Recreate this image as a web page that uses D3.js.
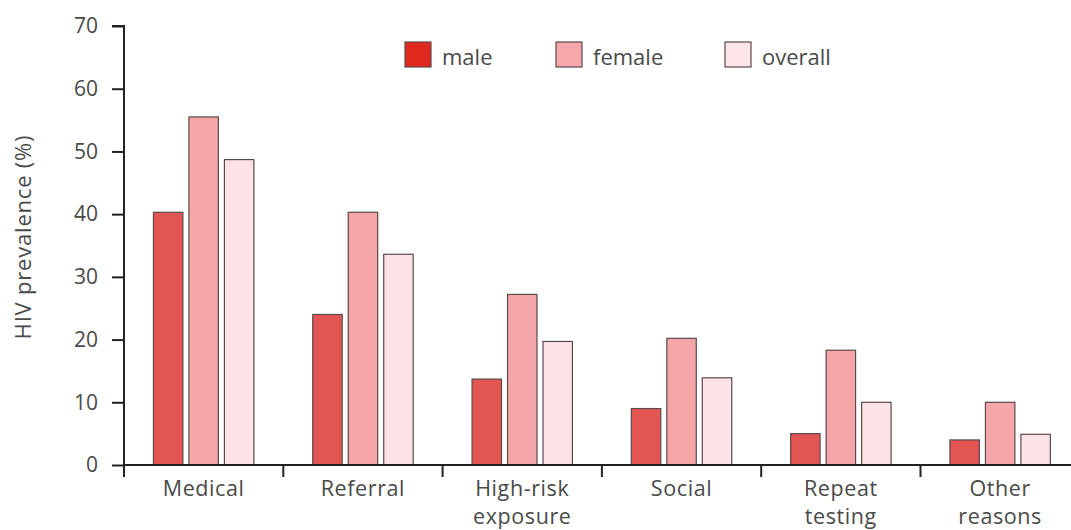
<!DOCTYPE html>
<html><head><meta charset="utf-8">
<script src="https://cdn.jsdelivr.net/npm/d3@7"></script>
<style>
body{margin:0;background:#fff;}
svg{display:block;}
text{font-family:"Open Sans",sans-serif;fill:#4a4a4a;}
</style></head>
<body><svg id="c" width="1071" height="530"></svg>
<script>
const categories = [["Medical"],["Referral"],["High-risk","exposure"],["Social"],["Repeat","testing"],["Other","reasons"]];
const series = ["male","female","overall"];
const male = [40.3, 24.0, 13.7, 9.0, 5.0, 4.0];
const female = [55.5, 40.3, 27.2, 20.2, 18.3, 10.0];
const overall = [48.7, 33.6, 19.7, 13.9, 10.0, 4.9];
const yTicks = [0,10,20,30,40,50,60,70];
const yLabel = "HIV prevalence (%)";

const values = {male, female, overall};
const barColors = {male:"#e25553", female:"#f5a6a8", overall:"#fde3e5"};
const legendColors = {male:"#e0281f", female:"#f7a7aa", overall:"#fde4e6"};

const svg = d3.select("#c");
const mLeft = 124, mBottom = 465, mTop = 26;
const catKeys = categories.map(c => c.join(" "));
const x0 = d3.scaleBand().domain(catKeys).range([mLeft, mLeft + 6*159.3]).padding(0);
const x1 = d3.scaleBand().domain(series).range([0, x0.bandwidth()]).paddingInner(0.17).paddingOuter(0.83);
const y = d3.scaleLinear().domain([0,70]).range([mBottom, mTop]);

// bars
const g = svg.append("g");
catKeys.forEach((k, i) => {
  series.forEach(s => {
    g.append("rect")
      .attr("x", x0(k) + x1(s))
      .attr("y", y(values[s][i]))
      .attr("width", x1.bandwidth())
      .attr("height", y(0) - y(values[s][i]))
      .attr("fill", barColors[s])
      .attr("stroke", "#5a4a4c")
      .attr("stroke-width", 1.2);
  });
});

// y axis
const ya = svg.append("g").attr("transform", `translate(${mLeft},0)`)
  .call(d3.axisLeft(y).tickValues(yTicks).tickSize(12).tickPadding(14));
ya.select(".domain").attr("stroke","#222").attr("stroke-width",2).attr("d", `M-12,${mTop}H0V${mBottom}`);
ya.selectAll(".tick line").attr("stroke","#222").attr("stroke-width",2);
ya.selectAll(".tick text").style("font-size","21px").style("font-family","'Open Sans',sans-serif").attr("fill","#4a4a4a");

// x axis
const xa = svg.append("g").attr("transform", `translate(0,${mBottom})`);
xa.append("line").attr("x1", mLeft).attr("x2", 1071).attr("y1",0).attr("y2",0).attr("stroke","#222").attr("stroke-width",2);
catKeys.forEach(k => {
  xa.append("line").attr("x1", x0(k)).attr("x2", x0(k)).attr("y1",0).attr("y2",12).attr("stroke","#222").attr("stroke-width",2);
});
categories.forEach((c, i) => {
  const cx = x0(catKeys[i]) + x0.bandwidth()/2;
  const t = xa.append("text").attr("text-anchor","middle")
    .attr("x", cx).attr("y", 31).style("font-size","21.5px").style("letter-spacing","0.6px");
  c.forEach((line, j) => t.append("tspan").attr("x", cx).attr("dy", j === 0 ? 0 : 28).text(line));
});

// y label
svg.append("text").attr("transform","translate(31,237) rotate(-90)").attr("text-anchor","middle")
  .style("font-size","22px").style("letter-spacing","0.8px").text(yLabel);

// legend
const legX = [405, 556, 725];
series.forEach((s, i) => {
  svg.append("rect").attr("x", legX[i]).attr("y", 42).attr("width", 26).attr("height", 25)
    .attr("fill", legendColors[s]).attr("stroke","#5a4a4c").attr("stroke-width",1.2);
  svg.append("text").attr("x", legX[i] + 37).attr("y", 65).style("font-size","22px").text(s);
});
</script></body></html>
